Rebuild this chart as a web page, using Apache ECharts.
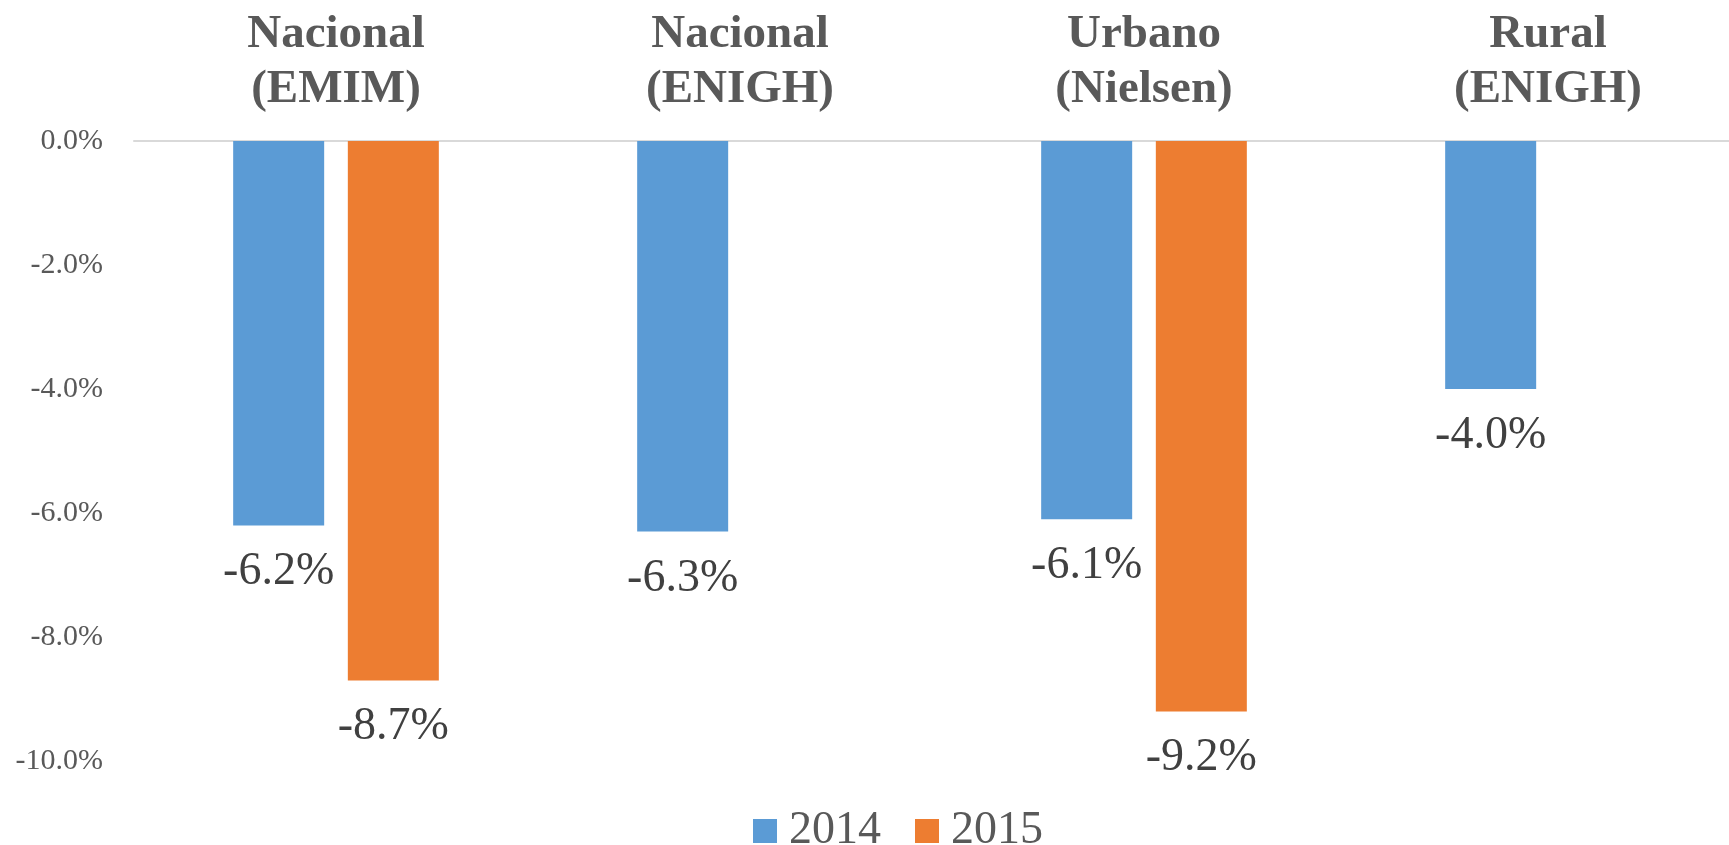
<!DOCTYPE html>
<html>
<head>
<meta charset="utf-8">
<title>Variación</title>
<script src="https://cdn.jsdelivr.net/npm/echarts@6/dist/echarts.min.js"></script>
<style>
  html, body { margin: 0; padding: 0; background: #fff; }
  #chart { width: 1729px; height: 845px; }
</style>
</head>
<body>
<div id="chart"></div>
<script>
// categorias (eje superior)
const categories = ['Nacional\n(EMIM)', 'Nacional\n(ENIGH)', 'Urbano\n(Nielsen)', 'Rural\n(ENIGH)']
// valores en %
const values2014 = [-6.2, -6.3, -6.1, -4.0]
const values2015 = [-8.7, null, -9.2, null]
const seriesNames = ['2014', '2015']

const serif = 'Liberation Serif'

const chart = echarts.init(document.getElementById('chart'), null, { renderer: 'canvas' })

const makeSeries = (name, data, color) => ({
  name: name,
  type: 'bar',
  data: data,
  barWidth: 91,
  barGap: '26%',
  itemStyle: { color: color },
  label: {
    show: true,
    position: 'bottom',
    distance: 24,
    fontFamily: serif,
    fontSize: 46,
    color: '#404040',
    formatter: p => p.value.toFixed(1) + '%'
  }
})

const option = {
  animation: false,
  textStyle: { fontFamily: serif },
  // el grafico original esta recortado a la derecha
  grid: { left: 134, top: 141, width: 1616, height: 620, outerBoundsMode: 'none', containLabel: false },
  legend: {
    data: seriesNames,
    left: 748,
    top: 803,
    icon: 'rect',
    itemWidth: 24,
    itemHeight: 24,
    itemGap: 34,
    textStyle: {
      fontFamily: serif,
      fontSize: 46,
      color: '#595959',
      padding: [0, 0, 0, 7]
    }
  },
  xAxis: {
    type: 'category',
    position: 'top',
    data: categories,
    axisLine: { show: true, lineStyle: { color: '#d9d9d9', width: 2 } },
    axisTick: { show: false },
    axisLabel: {
      margin: 24,
      fontFamily: serif,
      fontSize: 47,
      fontWeight: 'bold',
      lineHeight: 55,
      color: '#595959'
    }
  },
  yAxis: {
    type: 'value',
    min: -10,
    max: 0,
    interval: 2,
    axisLine: { show: false },
    axisTick: { show: false },
    splitLine: { show: false },
    axisLabel: {
      margin: 31,
      fontFamily: serif,
      fontSize: 30,
      color: '#595959',
      formatter: v => v.toFixed(1) + '%'
    }
  },
  series: [
    makeSeries(seriesNames[0], values2014, '#5B9BD5'),
    makeSeries(seriesNames[1], values2015, '#ED7D31')
  ]
}

chart.setOption(option)
</script>
</body>
</html>
